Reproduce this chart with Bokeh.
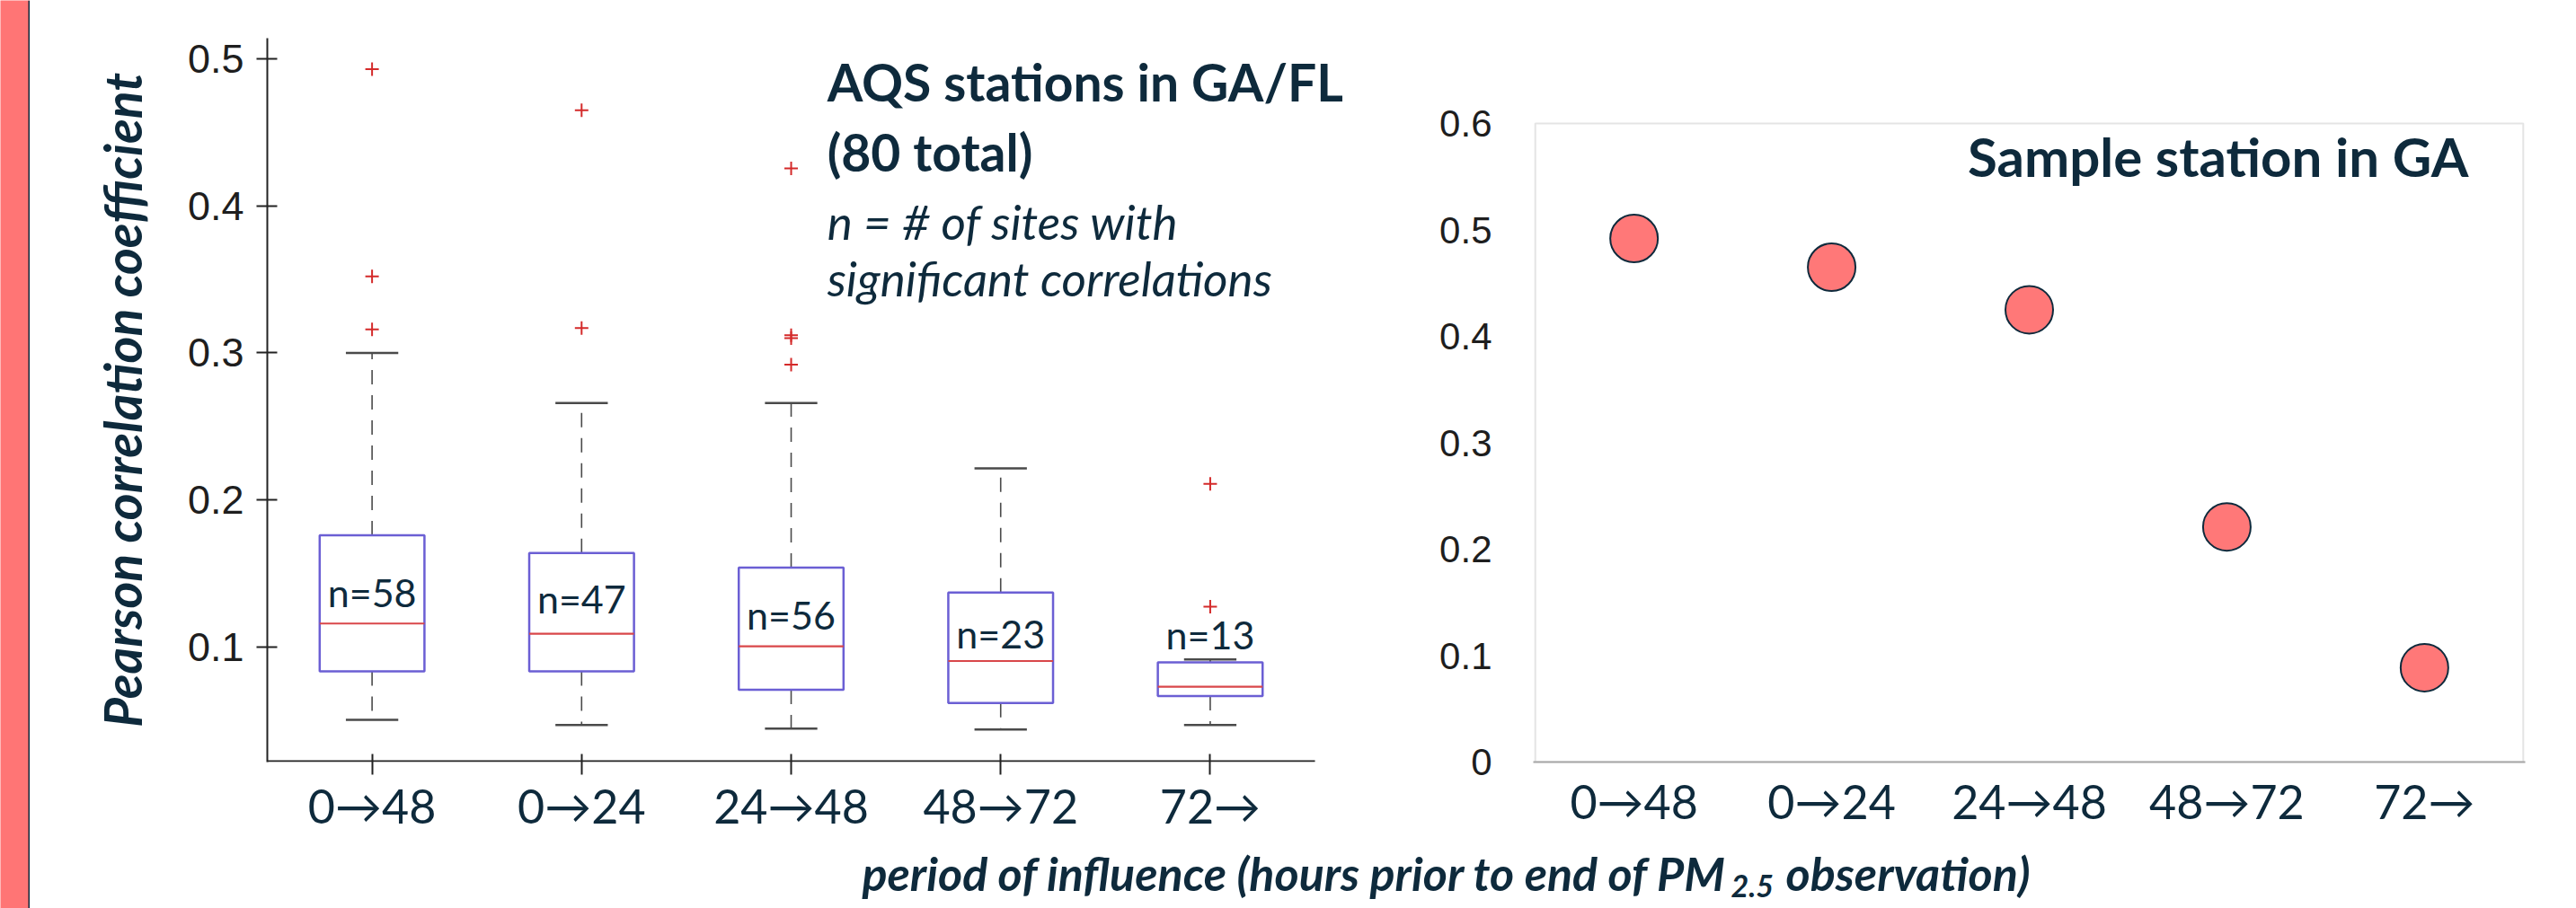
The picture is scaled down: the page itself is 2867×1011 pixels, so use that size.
from bokeh.plotting import figure
from bokeh.models import (Range1d, FixedTicker, CustomJSTickFormatter,
                          Label, BoxAnnotation, ColumnDataSource)
from bokeh.transform import dodge
from bokeh.layouts import row, column
from bokeh.embed import file_html
from bokeh.resources import INLINE
from bokeh.core.properties import value

# ---------------- data ----------------
periods = ["0→48", "0→24", "24→48", "48→72", "72→"]

# box-plot statistics (AQS stations in GA/FL)
box_q1 = [0.0835, 0.0835, 0.071, 0.062, 0.0667]
box_median = [0.116, 0.109, 0.1005, 0.0905, 0.073]
box_q3 = [0.176, 0.164, 0.154, 0.137, 0.0896]
whisker_low = [0.0505, 0.047, 0.0445, 0.044, 0.047]
whisker_high = [0.300, 0.266, 0.266, 0.2215, 0.0915]
n_sites = [58, 47, 56, 23, 13]
n_label_y = [0.137, 0.133, 0.122, 0.109, 0.1085]

outlier_period = ["0→48", "0→48", "0→48", "0→24", "0→24",
                  "24→48", "24→48", "24→48", "24→48", "72→", "72→"]
outlier_value = [0.493, 0.352, 0.316, 0.465, 0.317,
                 0.4255, 0.312, 0.310, 0.292, 0.211, 0.1275]

# sample station in GA
sample_station = [0.492, 0.465, 0.425, 0.221, 0.0887]

left_ticks = [0.1, 0.2, 0.3, 0.4, 0.5]
right_ticks = [0, 0.1, 0.2, 0.3, 0.4, 0.5, 0.6]

# ---------------- styles ----------------
NAVY = "#0e2a3c"
PINK = "#ff7575"
BOX_BLUE = "#6b5fd4"
MED_RED = "#d9474a"
WHISK = "#4a4a4a"
OUT_RED = "#d42a2a"
FRAME_GRAY = "#a6a6a6"
AXIS_FONT = "Liberation Sans"
CAL = "Lato"

pos = {p: i + 0.5 for i, p in enumerate(periods)}   # category centres
xpos = [pos[p] for p in periods]
ypos_fmt = CustomJSTickFormatter(code="return tick === 0 ? '0' : tick.toFixed(1);")
cat_fmt = CustomJSTickFormatter(args=dict(labels=periods),
                                code="return labels[Math.round(tick - 0.5)];")

TOP_H, BOTTOM_H = 930, 81

# ---------------- pink strip ----------------
strip = figure(width=33, height=TOP_H + BOTTOM_H, x_range=Range1d(0, 33),
               y_range=Range1d(0, 1), x_axis_location=None, y_axis_location=None,
               toolbar_location=None, output_backend="svg", min_border=0,
               outline_line_color=None, background_fill_color=PINK,
               border_fill_color=PINK)
strip.grid.visible = False
strip.add_layout(BoxAnnotation(left=31, right=33, fill_color=NAVY, fill_alpha=1,
                               line_color=None))

# ---------------- left: box plot ----------------
src = ColumnDataSource(dict(x=xpos, q1=box_q1, med=box_median, q3=box_q3,
                            lo=whisker_low, hi=whisker_high,
                            ntext=["n=%d" % n for n in n_sites], ny=n_label_y))

LEFT_Y0, LEFT_AXIS_Y = 0.0218, 0.0224
left = figure(width=1535, height=TOP_H, x_range=Range1d(0, 5.33),
              y_range=Range1d(LEFT_Y0, 0.51405), toolbar_location=None,
              output_backend="svg", min_border_left=264, min_border_right=28,
              min_border_top=42, min_border_bottom=82, outline_line_color=None,
              background_fill_color="white", border_fill_color="white")
left.grid.visible = False

# whiskers
left.segment(x0="x", y0="q3", x1="x", y1="hi", source=src,
             line_color=WHISK, line_width=1.6, line_dash="16 12")
left.segment(x0="x", y0="q1", x1="x", y1="lo", source=src,
             line_color=WHISK, line_width=1.6, line_dash="16 12")
for col in ("hi", "lo"):
    left.segment(x0=dodge("x", -0.125), y0=col, x1=dodge("x", 0.125), y1=col,
                 source=src, line_color=WHISK, line_width=2.5)
# boxes
left.vbar(x="x", top="q3", bottom="q1", width=0.5, source=src,
          fill_color="white", line_color=BOX_BLUE, line_width=2.5)
left.segment(x0=dodge("x", -0.25), y0="med", x1=dodge("x", 0.25), y1="med",
             source=src, line_color=MED_RED, line_width=2.2)
# outliers
left.scatter(x=[pos[p] for p in outlier_period], y=outlier_value, marker="cross",
             size=15, line_color=OUT_RED, line_width=2)
# n labels
left.text(x="x", y="ny", text="ntext", source=src, text_font=value(CAL),
          text_font_size="43px", text_color=NAVY, text_align="center",
          text_baseline="middle")
# x axis baseline (spans the five categories only)
left.segment(x0=[0], y0=[LEFT_AXIS_Y], x1=[len(periods)], y1=[LEFT_AXIS_Y],
             line_color="#222222", line_width=2)

left.yaxis.ticker = FixedTicker(ticks=left_ticks)
left.yaxis.formatter = ypos_fmt
left.xaxis.ticker = FixedTicker(ticks=xpos)
left.xaxis.formatter = cat_fmt
for ax in (left.xaxis, left.yaxis):
    ax.axis_line_color = "#222222"
    ax.axis_line_width = 2
    ax.major_tick_line_color = "#222222"
    ax.major_tick_line_width = 2
    ax.minor_tick_line_color = None
left.xaxis.axis_line_color = None
left.yaxis.major_tick_in = 11
left.yaxis.major_tick_out = 12
left.yaxis.major_label_standoff = 14
left.yaxis.major_label_text_font = AXIS_FONT
left.yaxis.major_label_text_font_size = "45px"
left.yaxis.major_label_text_color = "#1e1e1e"
left.yaxis.axis_label = "Pearson correlation coefficient"
left.yaxis.axis_label_text_font = CAL
left.yaxis.axis_label_text_font_size = "57px"
left.yaxis.axis_label_text_font_style = "bold italic"
left.yaxis.axis_label_text_color = NAVY
left.yaxis.axis_label_standoff = 36

left.xaxis.major_tick_in = 9
left.xaxis.major_tick_out = 14
left.xaxis.major_label_standoff = 3
left.xaxis.major_label_text_font = CAL
left.xaxis.major_label_text_font_size = "52px"
left.xaxis.major_label_text_color = NAVY

for txt, yv, size, style in [("AQS stations in GA/FL", 0.4843, "57px", "bold"),
                             ("(80 total)", 0.4365, "57px", "bold"),
                             ("n = # of sites with", 0.3895, "53px", "italic"),
                             ("significant correlations", 0.3510, "53px", "italic")]:
    left.add_layout(Label(x=2.672, y=yv, text=txt, text_font=CAL, text_font_size=size,
                          text_font_style=style, text_color=NAVY,
                          text_baseline="alphabetic"))

# ---------------- right: sample station ----------------
right = figure(width=1299, height=TOP_H, x_range=Range1d(-0.01, 5.01),
               y_range=Range1d(0, 0.6802), toolbar_location=None, output_backend="svg",
               min_border_left=138, min_border_right=57, min_border_top=42,
               min_border_bottom=82, outline_line_color=None,
               background_fill_color="white", border_fill_color="white")
right.grid.visible = False
right.add_layout(BoxAnnotation(left=0, right=len(periods), bottom=0, top=0.6,
                               fill_color=None, line_color=FRAME_GRAY, line_width=2))
right.scatter(x=xpos, y=sample_station, marker="circle", size=53,
              fill_color="#ff7878", line_color=NAVY, line_width=2)
right.yaxis.ticker = FixedTicker(ticks=right_ticks)
right.yaxis.formatter = ypos_fmt
right.xaxis.ticker = FixedTicker(ticks=xpos)
right.xaxis.formatter = cat_fmt
for ax in (right.xaxis, right.yaxis):
    ax.axis_line_color = FRAME_GRAY
    ax.axis_line_width = 2
    ax.major_tick_line_color = None
    ax.minor_tick_line_color = None
    ax.major_tick_in = 0
    ax.major_tick_out = 0
right.yaxis.axis_line_color = None
right.yaxis.major_label_standoff = 46
right.yaxis.major_label_text_font = AXIS_FONT
right.yaxis.major_label_text_font_size = "42px"
right.yaxis.major_label_text_color = "#1e1e1e"
right.xaxis.major_label_standoff = 12
right.xaxis.major_label_text_font = CAL
right.xaxis.major_label_text_font_size = "52px"
right.xaxis.major_label_text_color = NAVY
right.add_layout(Label(x=4.723, y=0.5696, text="Sample station in GA", text_font=CAL,
                       text_font_size="60px", text_font_style="bold", text_color=NAVY,
                       text_align="right", text_baseline="alphabetic"))

# ---------------- shared x title ----------------
bottom = figure(width=2834, height=BOTTOM_H, x_range=Range1d(0, 2834),
                y_range=Range1d(0, BOTTOM_H), x_axis_location=None, y_axis_location=None,
                toolbar_location=None, output_backend="svg", min_border=0,
                outline_line_color=None, background_fill_color="white",
                border_fill_color="white")
bottom.grid.visible = False
bottom.add_layout(Label(x=1889, y=40, text="period of influence (hours prior to end of PM",
                        text_font=CAL, text_font_size="52px", text_font_style="bold italic",
                        text_color=NAVY, text_align="right", text_baseline="alphabetic"))
bottom.add_layout(Label(x=1893, y=25, text="2.5", text_font=CAL, text_font_size="34px",
                        text_font_style="bold italic", text_color=NAVY,
                        text_align="left", text_baseline="alphabetic"))
bottom.add_layout(Label(x=1954, y=40, text="observation)", text_font=CAL,
                        text_font_size="52px", text_font_style="bold italic",
                        text_color=NAVY, text_align="left", text_baseline="alphabetic"))

layout = row(strip, column(row(left, right), bottom))
open("out.html", "w").write(file_html(layout, INLINE))
